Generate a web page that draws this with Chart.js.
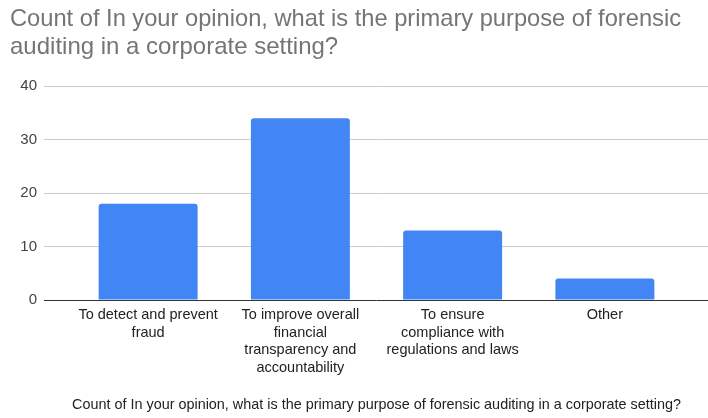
<!DOCTYPE html>
<html>
<head>
<meta charset="utf-8">
<script src="https://cdn.jsdelivr.net/npm/chart.js@4.4.1/dist/chart.umd.min.js"></script>
<style>
  html, body { margin: 0; padding: 0; background: #fff; }
  #wrap { width: 708px; height: 418px; position: relative; }
</style>
</head>
<body>
<div id="wrap"><canvas id="chart"></canvas></div>
<script>
const categories = [
  ["To detect and prevent", "fraud"],
  ["To improve overall", "financial", "transparency and", "accountability"],
  ["To ensure", "compliance with", "regulations and laws"],
  ["Other"]
];
const counts = [18, 34, 13, 4];
const yTicks = [0, 10, 20, 30, 40];

const titleLines = [
  "Count of In your opinion, what is the primary purpose of forensic",
  "auditing in a corporate setting?"
];
const axisTitle = "Count of In your opinion, what is the primary purpose of forensic auditing in a corporate setting?";

Chart.defaults.font.family = "'Liberation Sans', Arial, sans-serif";

// grid lines in the reference run to the right edge of the picture
const extendGrid = {
  id: "extendGrid",
  beforeDatasetsDraw(chart) {
    const { ctx, chartArea, scales } = chart;
    ctx.save();
    ctx.lineWidth = 1;
    scales.y.ticks.forEach((t) => {
      const y = Math.round(scales.y.getPixelForValue(t.value) - 0.5) + 0.5;
      ctx.strokeStyle = t.value === 0 ? "#333333" : "#cccccc";
      ctx.beginPath();
      ctx.moveTo(chartArea.right, y);
      ctx.lineTo(chart.width, y);
      ctx.stroke();
    });
    ctx.restore();
  }
};

new Chart(document.getElementById("chart"), {
  type: "bar",
  data: {
    labels: categories,
    datasets: [{
      data: counts,
      backgroundColor: "#4285f4",
      borderRadius: { topLeft: 3, topRight: 3 },
      borderSkipped: "bottom",
      barPercentage: 0.65,
      categoryPercentage: 1
    }]
  },
  options: {
    responsive: true,
    maintainAspectRatio: false,
    animation: false,
    layout: { padding: { left: 10, right: 27, top: 0, bottom: 0 } },
    plugins: {
      legend: { display: false },
      tooltip: { enabled: false },
      title: {
        display: true,
        text: titleLines,
        align: "start",
        color: "#757575",
        font: { size: 24, weight: "normal", lineHeight: 1.17 },
        padding: { top: 5, bottom: 25 }
      }
    },
    scales: {
      x: {
        grid: { display: false, drawTicks: false },
        border: { display: false },
        ticks: {
          color: "#222222",
          font: { size: 14.5, lineHeight: 1.22 },
          padding: 6,
          maxRotation: 0,
          autoSkip: false
        },
        title: {
          display: true,
          text: axisTitle,
          color: "#222222",
          font: { size: 15 },
          padding: { top: 10, bottom: 4 }
        },
        afterFit(scale) { scale.height = 118; }
      },
      y: {
        min: 0,
        max: 40,
        afterBuildTicks(scale) { scale.ticks = yTicks.map((v) => ({ value: v })); },
        grid: {
          color: (c) => (c.tick && c.tick.value === 0 ? "#333333" : "#cccccc"),
          tickLength: 28
        },
        border: { display: false },
        ticks: {
          color: "#444444",
          font: { size: 15 },
          padding: 7
        },
        afterFit(scale) { scale.width = 62; }
      }
    }
  },
  plugins: [extendGrid]
});
</script>
</body>
</html>
